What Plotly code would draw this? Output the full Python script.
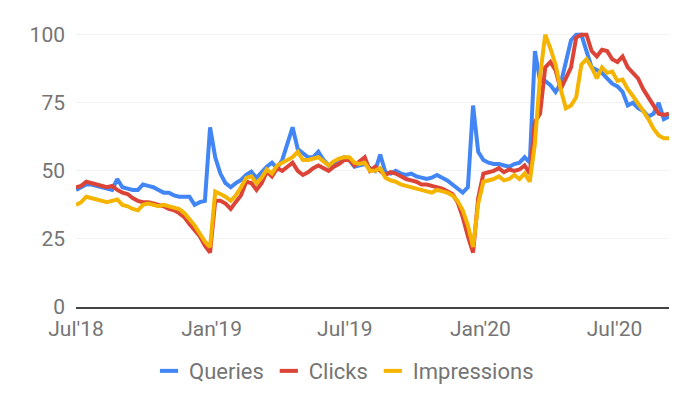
import plotly.graph_objects as go
import pandas as pd

start_date = "2018-07-01"
n_weeks = 116

queries = [
    43, 44, 45, 45, 44.5, 44, 43.5, 43, 47, 44,
    43.5, 43, 43, 45, 44.5, 44, 43, 42, 42, 41,
    40.5, 40.5, 40.5, 37.5, 38.5, 39, 66, 55, 49, 45.5,
    44, 45.5, 46.7, 48.5, 49.7, 47.4, 49.7, 51.5, 53, 51,
    54, 60, 66, 58, 56.5, 55, 55, 57, 54, 52,
    53, 54, 55, 54, 51.5, 52, 52.5, 51, 50,
    56, 49.5, 49, 50, 49, 48.5, 49, 48, 47.5, 47,
    47.5, 48.5, 47.5, 46.5, 45, 43.5, 42, 44, 74, 57,
    54, 53, 52.5, 52.5, 52, 51.5, 52.5, 53, 55, 53,
    94, 83, 83, 81.5, 79, 82, 90, 98, 100, 100,
    94, 88, 87, 86, 84, 82, 81, 79, 74, 75,
    73, 72, 70, 71, 75, 69, 70,
]
clicks = [
    44, 44.5, 46, 45.5, 45, 44.5, 44, 44.5, 43, 42,
    41.5, 40, 39, 38.5, 38.5, 38, 37.5, 37, 36, 35.5,
    34.5, 33, 30.5, 28.5, 26, 22.5, 20, 39, 39, 38,
    36, 38.6, 41, 46, 45.5, 43, 45.5, 49.7, 48, 51,
    50, 51.5, 53, 50, 48.5, 49.5, 51, 52, 51, 50,
    51.5, 52.5, 54, 54, 52, 53.5, 55, 50, 51.5,
    50, 48.5, 49.5, 49, 48, 47, 46.5, 46, 45, 45,
    44.5, 44, 43.5, 42.5, 41.5, 38.5, 33, 26, 20, 40,
    49, 49.5, 50, 51, 49.5, 50.5, 50, 50.5, 52, 49,
    68, 71, 88, 90, 87, 80, 84, 88, 99, 100,
    100, 94, 92, 94.5, 94, 91, 90, 92, 88, 86,
    84, 80, 77, 74, 71, 70.5, 71,
]
impressions = [
    37.5, 38.5, 40.5, 40, 39.5, 39, 38.5, 39, 39.5, 37.5,
    37, 36, 35.5, 37.5, 38, 37.5, 37, 37.5, 37, 36.5,
    36, 34.5, 32.5, 30, 27, 24, 22, 42.4, 41.5, 40.5,
    39, 41, 44, 47.4, 48, 45.5, 47.5, 50.5, 49, 52,
    53, 54, 55, 57, 54, 54, 54.5, 55, 53.5, 52,
    53.5, 54.5, 55, 55, 53, 52.5, 53, 50, 50,
    51, 47.5, 46.5, 46, 45, 44.5, 44, 43.5, 43, 42.5,
    42, 43, 42.5, 42, 41, 39, 35.5, 30, 22, 38,
    46, 46.5, 47, 48, 46.5, 47, 48.5, 47, 49, 46,
    60, 85, 100, 95, 89, 80, 73, 74, 77, 89,
    91, 88, 84, 88, 86, 86.5, 83, 83.5, 80, 77.5,
    75, 72, 69, 65.5, 63, 62, 62,
]

tick_dates = ["2018-07-01", "2019-01-01", "2019-07-01", "2020-01-01", "2020-07-01"]
tick_labels = ["Jul'18", "Jan'19", "Jul'19", "Jan'20", "Jul'20"]
y_ticks = [0, 25, 50, 75, 100]

dates = pd.date_range(start_date, periods=n_weeks, freq="7D")

series = [
    ("Queries", queries, "#4285F4"),
    ("Clicks", clicks, "#DB4437"),
    ("Impressions", impressions, "#F4B400"),
]

fig = go.Figure()
for name, vals, col in series:
    fig.add_trace(go.Scatter(x=dates, y=vals, mode="lines", name=name,
                             line=dict(color=col, width=4), showlegend=False))
for name, vals, col in series:
    fig.add_trace(go.Scatter(x=[None], y=[None], mode="markers", name=name,
                             marker=dict(symbol="line-ew", size=13, color=col,
                                         line=dict(width=4, color=col))))

font_color = "#757575"
fig.update_layout(
    width=700, height=413,
    margin=dict(l=76, r=31, t=32, b=106),
    paper_bgcolor="white", plot_bgcolor="white",
    font=dict(family="Roboto", size=22, color=font_color),
    legend=dict(orientation="h", x=0.452, xanchor="center", y=-0.233, yanchor="middle",
                font=dict(size=22, color=font_color), itemwidth=30),
    xaxis=dict(type="date", range=[dates[0], dates[-1]], tickvals=tick_dates,
               ticktext=tick_labels, showgrid=False, showline=True,
               linecolor="#444444", linewidth=1.5, ticks="", zeroline=False,
               ticklabelstandoff=2,
               tickfont=dict(size=21, color=font_color)),
    yaxis=dict(range=[0, 101], tickvals=y_ticks, showgrid=True, gridcolor="#f2f2f2",
               zeroline=False, ticks="", ticklabelstandoff=10,
               tickfont=dict(size=21, color=font_color)),
)

fig.write_html("out.html")
